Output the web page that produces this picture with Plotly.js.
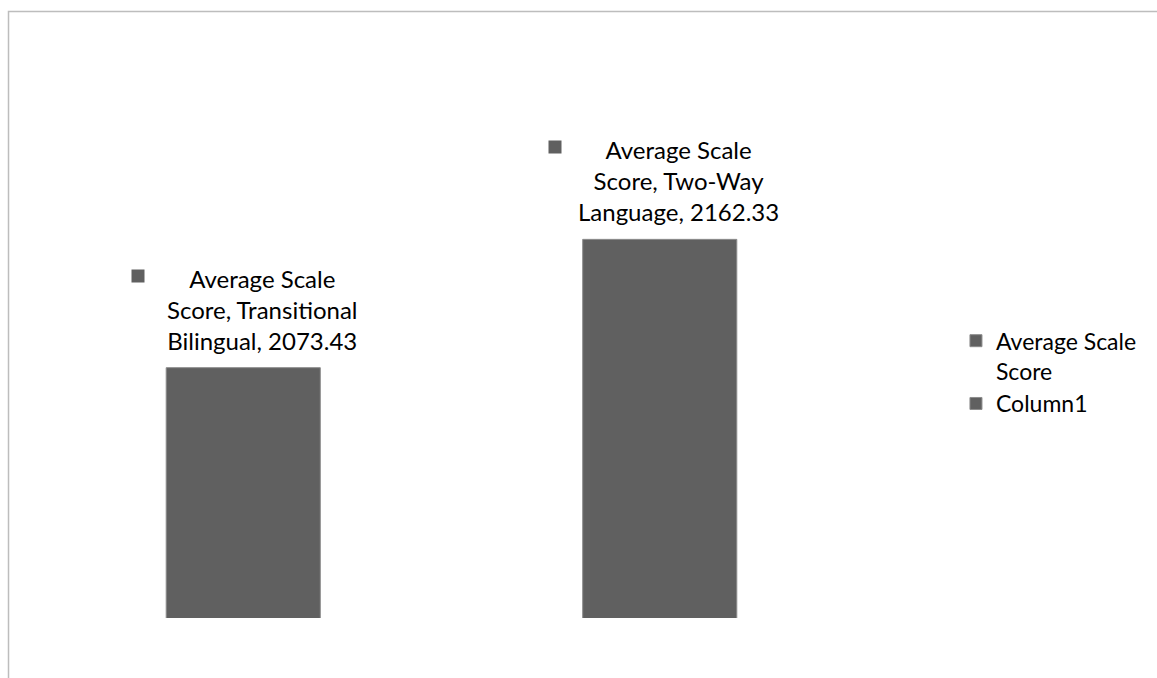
<!DOCTYPE html>
<html>
<head>
<meta charset="utf-8">
<script src="https://cdn.plot.ly/plotly-3.0.1.min.js"></script>
<style>
  html, body { margin: 0; padding: 0; background: #fff; }
  #chart { width: 1157px; height: 678px; }
</style>
</head>
<body>
<div id="chart"></div>
<script>
// Programme categories and their average scale scores
const programs = ["Transitional Bilingual", "Two-Way Language"];
const avgScaleScore = [2073.43, 2162.33];
const seriesNames = ["Average Scale Score", "Column1"];
const column1 = [null, null];

const barColor = "#606060";
const fontFamily = "Lato, 'Open Sans', sans-serif";

// Simple word wrap, joining lines with <br>
function wrap(text, maxChars) {
  const words = text.split(" ");
  const lines = [];
  let cur = "";
  words.forEach(w => {
    const next = cur ? cur + " " + w : w;
    if (next.length > maxChars && cur) { lines.push(cur); cur = w; }
    else cur = next;
  });
  if (cur) lines.push(cur);
  return lines.join("<br>");
}

const traces = [
  {
    type: "bar",
    name: wrap(seriesNames[0], 13),
    x: programs,
    y: avgScaleScore,
    width: 0.37,
    marker: { color: barColor, line: { color: "#8c8c8c", width: 1 } },
    hoverinfo: "x+y"
  },
  {
    type: "bar",
    name: seriesNames[1],
    x: programs,
    y: column1,
    width: 0.37,
    marker: { color: barColor, line: { color: "#8c8c8c", width: 1 } },
    hoverinfo: "skip"
  }
];

// Data labels: a legend key square plus "series, category, value"
const annotations = [];
programs.forEach((p, i) => {
  const v = avgScaleScore[i];
  annotations.push({
    x: p, y: v, xref: "x", yref: "y",
    text: wrap(seriesNames[0] + ", " + p + ", " + v.toFixed(2), 19),
    showarrow: false,
    xanchor: "center", yanchor: "bottom",
    xshift: 19, yshift: 11,
    align: "center",
    font: { family: fontFamily, size: 24, color: "#000" }
  });
  annotations.push({
    x: p, y: v, xref: "x", yref: "y",
    text: " ",
    showarrow: false,
    width: 12, height: 12, borderpad: 0,
    bgcolor: barColor,
    xanchor: "center", yanchor: "middle",
    xshift: -105, yshift: 92,
    font: { size: 1 }
  });
});

const layout = {
  width: 1157,
  height: 678,
  margin: { l: 35, r: 289, t: 185, b: 60, pad: 0 },
  paper_bgcolor: "#fff",
  plot_bgcolor: "#fff",
  barmode: "overlay",
  showlegend: true,
  xaxis: { visible: false, type: "category" },
  yaxis: { visible: false, range: [1900, 2200] },
  legend: {
    x: 1.1056, xanchor: "left",
    y: 0.69, yanchor: "top",
    valign: "top",
    font: { family: fontFamily, size: 23, color: "#000" },
    bgcolor: "rgba(0,0,0,0)"
  },
  annotations: annotations,
  shapes: [
    {
      type: "path", xref: "paper", yref: "paper",
      path: "M -0.0318,-0.2 L -0.0318,1.4007 L 1.4,1.4007",
      line: { color: "#bdbdbd", width: 1.5 }
    }
  ],
  font: { family: fontFamily }
};

Plotly.newPlot("chart", traces, layout, { displayModeBar: false, staticPlot: true });
</script>
</body>
</html>
